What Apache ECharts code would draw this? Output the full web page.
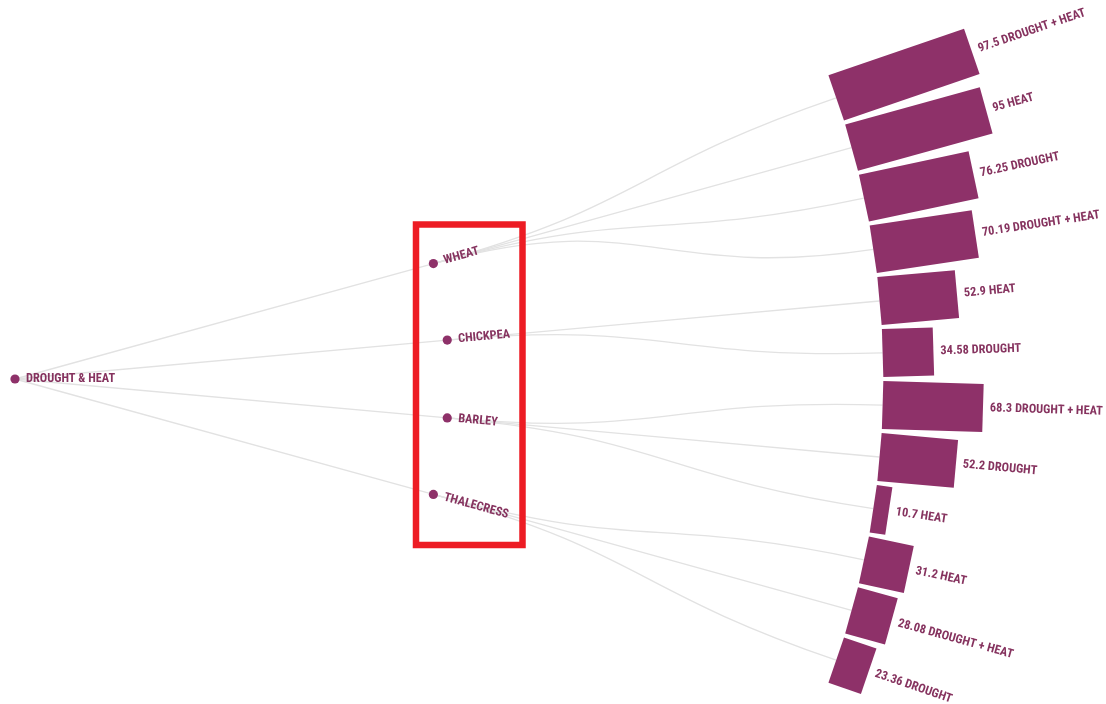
<!DOCTYPE html>
<html>
<head>
<meta charset="utf-8">
<script src="https://cdn.jsdelivr.net/npm/echarts@6/dist/echarts.min.js"></script>
<style>html,body{margin:0;padding:0;background:#fff}#c{width:1106px;height:704px}</style>
</head>
<body>
<div id="c"></div>
<script>
// ---- data ----
const rootName = 'DROUGHT & HEAT';
const crops = ['WHEAT', 'CHICKPEA', 'BARLEY', 'THALECRESS'];
const leafCrop = ['WHEAT','WHEAT','WHEAT','WHEAT','CHICKPEA','CHICKPEA','BARLEY','BARLEY','BARLEY','THALECRESS','THALECRESS','THALECRESS'];
const leafStress = ['DROUGHT + HEAT','HEAT','DROUGHT','DROUGHT + HEAT','HEAT','DROUGHT','DROUGHT + HEAT','DROUGHT','HEAT','HEAT','DROUGHT + HEAT','DROUGHT'];
const leafValue = [97.5, 95, 76.25, 70.19, 52.9, 34.58, 68.3, 52.2, 10.7, 31.2, 28.08, 23.36];

// ---- layout (radial tree) ----
const LEAF_SPAN = 37.8;   // degrees covered by leaves
const CROP_SPAN = 30.84;  // degrees covered by crop nodes
const PX_PER_DEPTH = 434;
const RMAX = 2.6;
const BAR_PX_PER_UNIT = 1.47;
const BAR_WIDTH = 48;
const COLOR = '#8e3169';
const TEXT_COLOR = '#86335f';
const FONT = 'bold 12.3px "Roboto Condensed", "Liberation Sans Narrow", Roboto, sans-serif';

const leafAngle = leafValue.map((v, i) => LEAF_SPAN / 2 - i * LEAF_SPAN / (leafValue.length - 1));
const cropAngle = crops.map((c, j) => CROP_SPAN / 2 - j * CROP_SPAN / (crops.length - 1));

// data for series
const nodeData = [[0, 0, -1]].concat(crops.map((c, j) => [1, cropAngle[j], j]));
const linkData = crops.map((c, j) => [1, cropAngle[j], 0, 0])
  .concat(leafValue.map((v, i) => [2, leafAngle[i], 1, cropAngle[crops.indexOf(leafCrop[i])]]));
const leafData = leafValue.map((v, i) => [2, leafAngle[i], v, i]);

function unitDir(a) { const r = a * Math.PI / 180; return [Math.cos(r), -Math.sin(r)]; }

const chart = echarts.init(document.getElementById('c'));
chart.setOption({
  animation: false,
  backgroundColor: '#fff',
  polar: { center: [15, 379], radius: RMAX * PX_PER_DEPTH },
  angleAxis: { type: 'value', min: -180, max: 180, startAngle: 180, clockwise: false, show: false },
  radiusAxis: { type: 'value', min: 0, max: RMAX, show: false },
  graphic: [{
    type: 'rect', shape: { x: 416, y: 224.5, width: 106.5, height: 320.5 },
    style: { fill: 'none', stroke: '#ed1c24', lineWidth: 6.5 }, z: 100
  }],
  series: [
    {
      type: 'custom', coordinateSystem: 'polar', data: linkData,
      encode: { radius: 0, angle: 1 }, z: 1, silent: true,
      renderItem: function (params, api) {
        const r1 = api.value(0), a1 = api.value(1), r0 = api.value(2), a0 = api.value(3);
        const p0 = api.coord([r0, a0]);
        const p1 = api.coord([r1, a1]);
        if (r0 === 0) {
          return { type: 'line', shape: { x1: p0[0], y1: p0[1], x2: p1[0], y2: p1[1] },
            style: { stroke: '#e2e2e2', lineWidth: 1.3, fill: null } };
        }
        const rm = (r0 + r1) / 2;
        const c1 = api.coord([rm, a0]);
        const c2 = api.coord([rm, a1]);
        return { type: 'bezierCurve', shape: { x1: p0[0], y1: p0[1], cpx1: c1[0], cpy1: c1[1], cpx2: c2[0], cpy2: c2[1], x2: p1[0], y2: p1[1] },
          style: { stroke: '#e2e2e2', lineWidth: 1.3, fill: null } };
      }
    },
    {
      type: 'custom', coordinateSystem: 'polar', data: leafData,
      encode: { radius: 0, angle: 1 }, z: 2, silent: true,
      renderItem: function (params, api) {
        const r = api.value(0), a = api.value(1), v = api.value(2), i = api.value(3);
        const d = unitDir(a);
        const n = [-d[1], d[0]];
        const p0 = api.coord([r, a]);
        const len = v * BAR_PX_PER_UNIT;
        const p1 = [p0[0] + d[0] * len, p0[1] + d[1] * len];
        const h = BAR_WIDTH / 2;
        const pts = [
          [p0[0] + n[0] * h, p0[1] + n[1] * h],
          [p1[0] + n[0] * h, p1[1] + n[1] * h],
          [p1[0] - n[0] * h, p1[1] - n[1] * h],
          [p0[0] - n[0] * h, p0[1] - n[1] * h]
        ];
        const lp = [p1[0] + d[0] * 7, p1[1] + d[1] * 7];
        return { type: 'group', children: [
          { type: 'polygon', shape: { points: pts }, style: { fill: COLOR } },
          { type: 'text', x: lp[0], y: lp[1], rotation: a * Math.PI / 180,
            style: { text: v + ' ' + leafStress[i], fill: TEXT_COLOR, font: FONT, align: 'left', verticalAlign: 'middle' } }
        ] };
      }
    },
    {
      type: 'custom', coordinateSystem: 'polar', data: nodeData,
      encode: { radius: 0, angle: 1 }, z: 3, silent: true,
      renderItem: function (params, api) {
        const r = api.value(0), a = api.value(1), j = api.value(2);
        const p = api.coord([r, a]);
        const d = unitDir(a);
        const off = 11;
        const name = j < 0 ? rootName : crops[j];
        return { type: 'group', children: [
          { type: 'circle', shape: { cx: p[0], cy: p[1], r: 4.6 }, style: { fill: COLOR } },
          { type: 'text', x: p[0] + d[0] * off, y: p[1] + d[1] * off, rotation: a * Math.PI / 180,
            style: { text: name, fill: TEXT_COLOR, font: FONT, align: 'left', verticalAlign: 'middle' } }
        ] };
      }
    }
  ]
});
</script>
</body>
</html>
